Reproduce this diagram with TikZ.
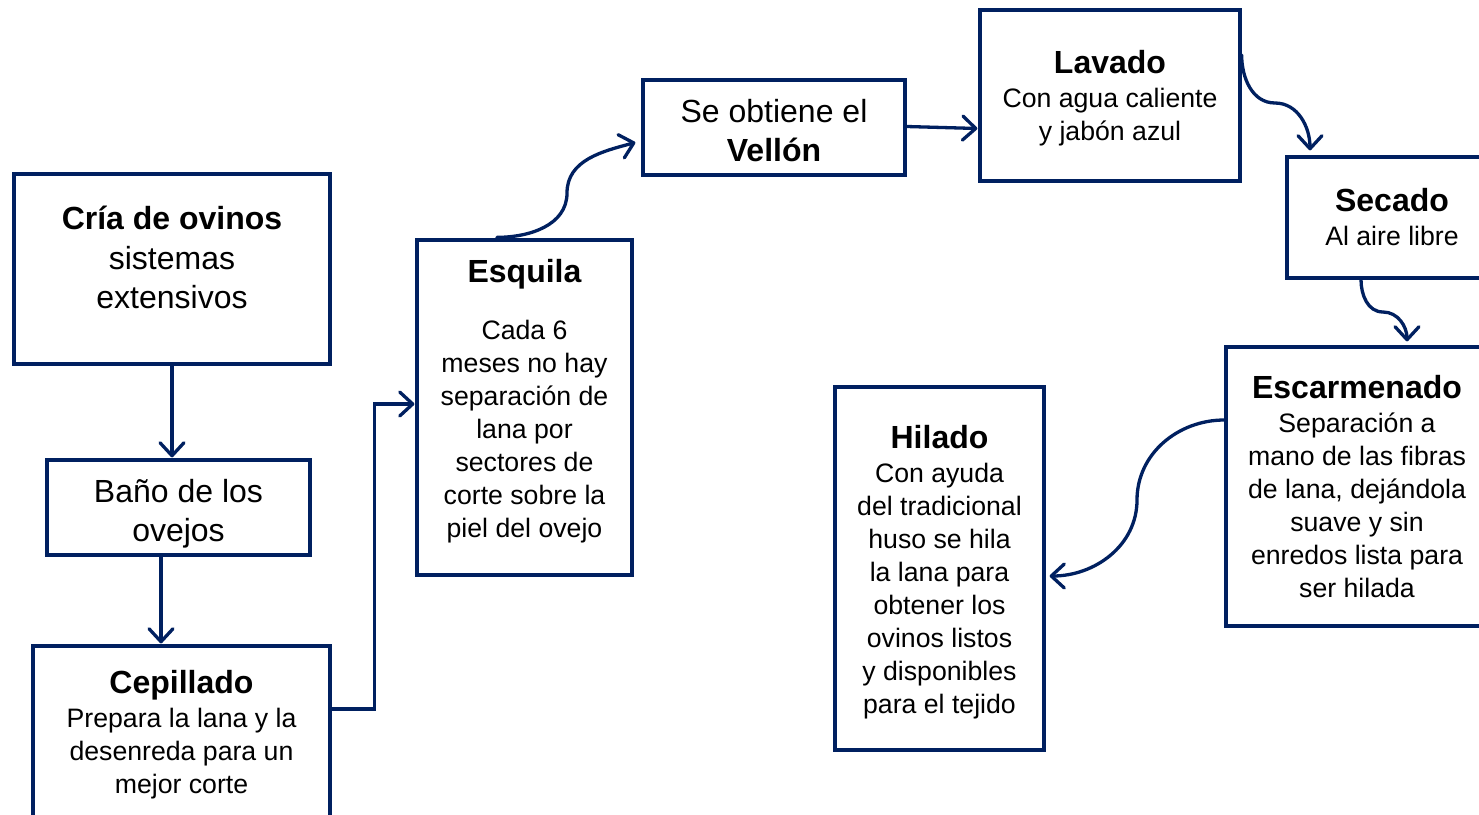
\documentclass[tikz,border=0pt]{standalone}
\usepackage{fontspec}
\setmainfont{Liberation Sans}
\usetikzlibrary{arrows.meta}
\definecolor{navy}{HTML}{002060}
\newcommand{\ttl}[1]{{\fontsize{32}{33}\selectfont\bfseries #1}}
\lineskiplimit=-50pt
\tikzset{
  box/.style={draw=navy, line width=3.3pt, inner sep=0pt},
  txt/.style={inner sep=0pt, align=center, font=\fontsize{26.67}{33}\selectfont},
  bigtxt/.style={txt, font=\fontsize{32}{39.5}\selectfont},
  conn/.style={draw=navy, line width=3.3pt, line cap=round,
    -{Straight Barb[length=13pt,width=24pt,line width=3.3pt,round]}}
}
\begin{document}
\begin{tikzpicture}[x=1pt,y=-1pt]
\useasboundingbox (0,0) rectangle (1479,814);
\clip (0,0) rectangle (1479,814);
\fill[white] (0,0) rectangle (1479,814);

\node[box, minimum width=316pt, minimum height=190pt] (cria) at (172,269) {};
\node[bigtxt] (criat) at ([yshift=11.5pt]cria.center)
  {\textbf{Cría de ovinos}\\sistemas\\extensivos};
\node[box, minimum width=263pt, minimum height=95pt] (bano) at (178.5,507.5) {};
\node[bigtxt] (banot) at ([yshift=-6pt]bano.center) {Baño de los\\ovejos};
\node[box, minimum width=297pt, minimum height=174pt] (cepi) at (181.5,733) {};
\node[txt] (cepit) at ([yshift=-2pt]cepi.center)
  {\ttl{Cepillado}\\[1pt]Prepara la lana y la\\desenreda para un\\mejor corte};
\node[box, minimum width=215pt, minimum height=335pt] (esq) at (524.5,407.5) {};
\node[txt] (esqt) at ([yshift=6pt]esq.center)
  {\ttl{Esquila}\\[24pt]Cada 6\\meses no hay\\separación de\\lana por\\sectores de\\corte sobre la\\piel del ovejo};
\node[box, minimum width=262pt, minimum height=95pt] (vell) at (774,127.5) {};
\node[bigtxt] (vellt) at ([yshift=-3pt]vell.center) {Se obtiene el\\\textbf{Vellón}};
\node[box, minimum width=260pt, minimum height=171pt] (lav) at (1110,95.5) {};
\node[txt] (lavt) at ([yshift=-2.5pt]lav.center)
  {\ttl{Lavado}\\[1pt]Con agua caliente\\y jabón azul};
\node[box, minimum width=210pt, minimum height=121pt] (sec) at (1392,217.5) {};
\node[txt] (sect) at (sec.center) {\ttl{Secado}\\[1pt]Al aire libre};
\node[box, minimum width=262pt, minimum height=279pt] (esc) at (1357,486.5) {};
\node[txt] (esct) at (esc.center)
  {\ttl{Escarmenado}\\[1pt]Separación a\\mano de las fibras\\de lana, dejándola\\suave y sin\\enredos lista para\\ser hilada};
\node[box, minimum width=209pt, minimum height=363pt] (hil) at (939.5,568.5) {};
\node[txt] (hilt) at ([yshift=-3.5pt]hil.center)
  {\ttl{Hilado}\\[1pt]Con ayuda\\del tradicional\\huso se hila\\la lana para\\obtener los\\ovinos listos\\y disponibles\\para el tejido};

\draw[conn] (cria.south) -- ([yshift=1pt]cria.south |- bano.north);
\draw[conn] ([xshift=-17.5pt]bano.south) -- ([xshift=-17.5pt,yshift=1pt]bano.south |- cepi.north);
\draw[conn] ([yshift=24pt]cepi.east) -- ++(43,0) |- ([xshift=-1pt,yshift=3.5pt]esq.west);
\draw[conn] ([xshift=-27.5pt,yshift=1pt]esq.north) to[out=0,in=-90] (567,193)
  to[out=90,in=195] ([xshift=-6pt,yshift=-15pt]vell.west);
\draw[conn] ([yshift=1pt]vell.east) -- ([xshift=-1pt,yshift=-1pt]vell.east -| lav.west);
\draw[conn] ([yshift=40.5pt]lav.east) to[out=-90,in=180] (1275,103)
  to[out=0,in=90] ([xshift=-82pt,yshift=5pt]sec.north);
\draw[conn] ([xshift=-31pt]sec.south) to[out=-90,in=180] (1383,312)
  to[out=0,in=90] ([xshift=50pt,yshift=4pt]esc.north);
\draw[conn] ([yshift=66.5pt]esc.west) to[out=180,in=90] (1137,500)
  to[out=-90,in=0] ([xshift=4pt,yshift=-7.5pt]hil.east);
\end{tikzpicture}
\end{document}
